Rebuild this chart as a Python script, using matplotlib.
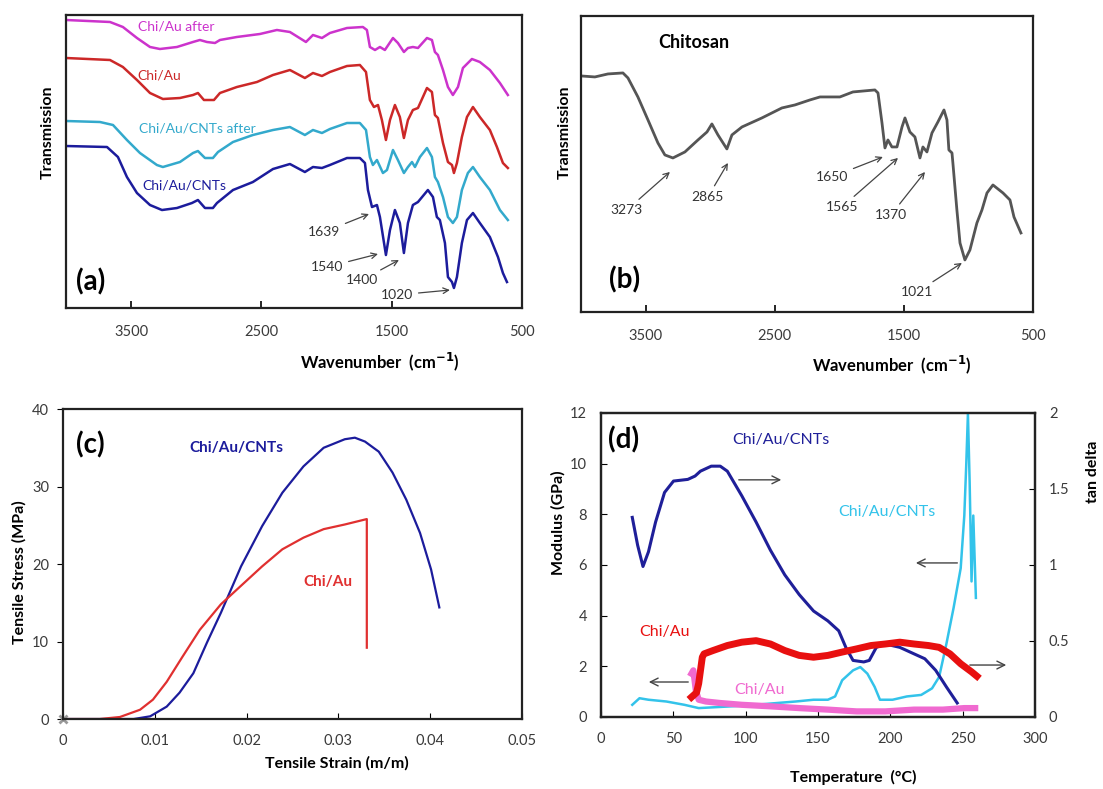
import matplotlib
matplotlib.use('Agg')
import matplotlib.pyplot as plt

plt.rcParams['font.family'] = ['Lato', 'DejaVu Sans']

# ---- (a) FTIR of the films (wavenumber cm-1, transmission in arbitrary units)
wn_cnts = [4000, 3685, 3601, 3532, 3455, 3355, 3263, 3148, 3033, 2987, 2933, 2872, 2841, 2718, 2565,
           2411, 2281, 2166, 2104, 2035, 1974, 1843, 1744, 1705, 1682, 1651, 1613, 1590, 1544, 1513,
           1475, 1437, 1406, 1375, 1337, 1298, 1222, 1183, 1153, 1130, 1091, 1068, 1037, 1022, 999,
           961, 922, 876, 823, 746, 684, 646, 615]
t_cnts = [162, 161, 151, 131, 115, 103, 98, 100, 105, 108, 100, 100, 105, 118, 126,
          139, 144, 136, 141, 140, 143, 150, 150, 145, 118, 101, 103, 91, 53, 78,
          98, 85, 55, 85, 103, 106, 118, 111, 91, 88, 65, 31, 26, 20, 31,
          65, 88, 95, 85, 71, 51, 35, 26]

wn_cnts_after = [4000, 3739, 3639, 3532, 3432, 3302, 3256, 3125, 3025, 2987, 2933, 2872, 2833, 2718, 2565,
                 2411, 2281, 2166, 2104, 2035, 1974, 1843, 1744, 1697, 1667, 1644, 1613, 1567, 1536, 1490,
                 1452, 1406, 1375, 1344, 1321, 1283, 1229, 1191, 1168, 1145, 1106, 1068, 1030, 999, 961,
                 915, 876, 823, 746, 669, 608]
t_cnts_after = [187, 186, 183, 168, 155, 143, 141, 146, 155, 157, 150, 150, 156, 166, 173,
                178, 181, 173, 178, 175, 179, 185, 185, 178, 151, 143, 148, 135, 138, 158,
                148, 135, 141, 146, 141, 151, 160, 151, 131, 126, 111, 91, 85, 91, 118,
                135, 141, 131, 118, 98, 88]

wn_au = [4000, 3662, 3563, 3455, 3355, 3256, 3125, 3025, 2987, 2941, 2864, 2818, 2688, 2534, 2411,
         2281, 2166, 2104, 2035, 1974, 1843, 1744, 1697, 1667, 1636, 1605, 1575, 1544, 1513, 1475,
         1437, 1406, 1375, 1337, 1298, 1229, 1191, 1168, 1145, 1106, 1068, 1037, 1022, 999, 961,
         922, 876, 823, 746, 692, 646, 608]
t_au = [250, 248, 241, 228, 215, 209, 210, 213, 215, 208, 208, 215, 221, 226, 233,
        238, 230, 235, 232, 236, 242, 243, 236, 208, 201, 203, 188, 168, 188, 203,
        191, 170, 188, 198, 200, 220, 216, 193, 190, 165, 146, 143, 135, 145, 171,
        191, 201, 191, 178, 161, 145, 140]

wn_au_after = [4000, 3662, 3563, 3455, 3355, 3279, 3148, 3025, 2972, 2918, 2856, 2818, 2688, 2511, 2381,
               2281, 2158, 2104, 2035, 1974, 1843, 1721, 1690, 1667, 1628, 1590, 1552, 1490, 1452, 1406,
               1375, 1337, 1298, 1229, 1191, 1168, 1145, 1106, 1068, 1030, 991, 953, 884, 823, 746,
               669, 608]
t_au_after = [288, 286, 281, 270, 261, 259, 261, 266, 268, 266, 265, 268, 271, 274, 278,
              276, 266, 273, 270, 275, 280, 281, 278, 261, 258, 261, 258, 270, 265, 256,
              260, 261, 260, 270, 268, 256, 253, 238, 221, 213, 221, 240, 249, 246, 238,
              225, 213]

# ---- (b) FTIR of chitosan
wn_chi = [4000, 3892, 3791, 3675, 3636, 3559, 3481, 3404, 3350, 3288, 3195, 3094, 3024, 2986, 2939,
          2870, 2831, 2753, 2599, 2444, 2343, 2227, 2149, 1995, 1894, 1724, 1700, 1669, 1646, 1623,
          1592, 1553, 1514, 1491, 1453, 1414, 1375, 1352, 1321, 1282, 1236, 1189, 1166, 1151, 1127,
          1120, 1089, 1065, 1027, 988, 934, 895, 856, 810, 732, 678, 647, 593]
t_chi = [236, 235, 238, 239, 234, 215, 192, 169, 157, 154, 160, 172, 180, 188, 177,
         163, 177, 185, 194, 204, 207, 212, 215, 215, 220, 222, 219, 189, 164, 172,
         165, 165, 185, 194, 180, 175, 154, 165, 160, 179, 190, 202, 192, 162, 159,
         149, 102, 69, 52, 62, 89, 102, 119, 127, 119, 112, 95, 79]

# ---- (c) tensile test
strain_cnts = [0, 0.0077, 0.0095, 0.0113, 0.0127, 0.0142, 0.0157, 0.0172, 0.0194, 0.0217, 0.0239,
               0.0262, 0.0284, 0.0307, 0.0318, 0.0329, 0.0344, 0.0359, 0.0374, 0.0389, 0.0401, 0.0410]
stress_cnts = [0, 0, 0.35, 1.6, 3.4, 5.9, 9.9, 13.7, 19.7, 24.9, 29.2,
               32.6, 35.0, 36.1, 36.3, 35.8, 34.5, 31.8, 28.3, 24.0, 19.3, 14.4]
strain_au = [0, 0.0040, 0.0062, 0.0084, 0.0098, 0.0113, 0.0130, 0.0149, 0.0172, 0.0194, 0.0217,
             0.0239, 0.0262, 0.0284, 0.0307, 0.0331, 0.0331]
stress_au = [0, 0, 0.26, 1.2, 2.5, 4.8, 8.0, 11.5, 14.8, 17.2, 19.7,
             21.9, 23.4, 24.5, 25.1, 25.8, 9.2]

# ---- (d) DMA
temp_cnts_tan = [21.6, 25.3, 29.0, 32.8, 37.7, 43.9, 50.1, 60.0, 65.0, 68.7, 76.2, 82.4, 87.3, 97.3,
                 107.2, 117.1, 127.0, 137.0, 146.9, 156.8, 164.3, 169.2, 174.2, 181.6, 185.4, 190.3,
                 196.5, 206.5, 216.4, 223.8, 231.3, 238.7, 246.2]
tan_cnts = [1.313, 1.13, 0.99, 1.087, 1.282, 1.477, 1.552, 1.563, 1.585, 1.617, 1.65, 1.65, 1.617, 1.455,
            1.282, 1.097, 0.935, 0.805, 0.697, 0.632, 0.567, 0.458, 0.372, 0.362, 0.372, 0.458,
            0.48, 0.458, 0.415, 0.383, 0.307, 0.198, 0.092]
temp_au_tan = [62.5, 66.0, 67.5, 70.0, 71.2, 77.4, 87.3, 97.3, 107.2, 117.1, 127.0, 137.0, 146.9,
               156.8, 166.7, 176.7, 186.6, 196.5, 206.5, 216.4, 226.3, 233.7, 241.2, 248.6, 256.1, 259.8]
tan_au = [0.13, 0.16, 0.22, 0.393, 0.415, 0.437, 0.47, 0.492, 0.502, 0.48, 0.437, 0.405, 0.393,
          0.405, 0.427, 0.448, 0.47, 0.48, 0.492, 0.48, 0.47, 0.458, 0.415, 0.35, 0.297, 0.268]
temp_cnts_mod = [21.6, 26.6, 32.8, 45.2, 57.6, 67.5, 100.0, 134.5, 146.9, 156.8, 161.8, 166.7, 174.2,
                 179.2, 184.1, 189.1, 192.8, 201.5, 211.4, 221.3, 228.8, 233.7, 238.7, 243.7, 248.6,
                 251.1, 252.4, 253.6, 254.8, 256.1, 257.3, 259.1]
mod_cnts = [0.48, 0.74, 0.68, 0.61, 0.48, 0.35, 0.45, 0.61, 0.68, 0.68, 0.81, 1.45, 1.84,
            1.97, 1.71, 1.19, 0.68, 0.68, 0.81, 0.87, 1.13, 1.58, 2.88, 4.31, 5.87,
            7.95, 9.90, 11.97, 9.25, 5.35, 7.95, 4.70]
temp_au_mod = [62.5, 63.8, 65.5, 67.5, 72.5, 82.4, 97.3, 117.1, 137.0, 156.8, 176.7, 196.5, 216.4,
               236.3, 251.1, 258.6]
mod_au = [1.71, 1.84, 1.06, 0.68, 0.61, 0.55, 0.48, 0.42, 0.35, 0.29, 0.22, 0.22, 0.29,
          0.29, 0.35, 0.35]

TICK = '#3a3a3a'
ARROW = '#444444'


def frame(ax):
    for s in ax.spines.values():
        s.set_linewidth(1.6)
        s.set_color('#222222')


def peak(ax, label, xy, xytext):
    ax.annotate(label, xy=xy, xytext=xytext, ha='center', va='center', fontsize=10, color='#333333',
                arrowprops=dict(arrowstyle='->', color=ARROW, lw=0.9, shrinkA=2, shrinkB=0))


def ftir_axes(ax, ymax):
    ax.set_xlim(4000, 500)
    ax.set_ylim(0, ymax)
    ax.set_xticks([3500, 2500, 1500, 500])
    ax.set_yticks([])
    ax.tick_params(axis='x', direction='in', length=5, width=1.2, pad=12, labelsize=10.5, labelcolor=TICK)
    frame(ax)


fig = plt.figure(figsize=(11.03, 7.89), dpi=100)

# (a)
ax = fig.add_axes([0.0598, 0.6096, 0.4134, 0.3714])
ax.plot(wn_au_after, t_au_after, color='#cc33cc', lw=1.8)
ax.plot(wn_au, t_au, color='#cc2828', lw=1.8)
ax.plot(wn_cnts_after, t_cnts_after, color='#33a9cc', lw=1.8)
ax.plot(wn_cnts, t_cnts, color='#1c1c9c', lw=1.8)
ftir_axes(ax, 293)
ax.text(3450, 281, 'Chi/Au after', color='#cc33cc', fontsize=10, va='center')
ax.text(3450, 232, 'Chi/Au', color='#cc2828', fontsize=10, va='center')
ax.text(3440, 180, 'Chi/Au/CNTs after', color='#33a9cc', fontsize=10, va='center')
ax.text(3410, 123, 'Chi/Au/CNTs', color='#1c1c9c', fontsize=10, va='center')
peak(ax, '1639', (1674, 94), (2020, 76))
peak(ax, '1540', (1605, 54), (1997, 41))
peak(ax, '1400', (1444, 48), (1728, 28))
peak(ax, '1020', (1053, 18), (1460, 13))
ax.text(0.055, 0.09, '(a)', transform=ax.transAxes, fontsize=20, fontweight='bold', ha='center', va='center')
ax.set_ylabel('Transmission', fontsize=11.5, fontweight='bold')
ax.yaxis.set_label_coords(-0.04, 0.6)
ax.yaxis.label.set_va('center')
ax.set_xlabel('Wavenumber  (cm$^{\\mathbf{-1}}$)', fontsize=12, fontweight='bold')
ax.xaxis.set_label_coords(0.689, -0.184)
ax.xaxis.label.set_va('center')

# (b)
ax = fig.add_axes([0.5267, 0.6046, 0.4098, 0.3752])
ax.plot(wn_chi, t_chi, color='#555555', lw=2.0)
ftir_axes(ax, 296)
peak(ax, '3273', (3311, 140), (3644, 102))
peak(ax, '2865', (2862, 149), (3017, 115))
peak(ax, '1650', (1662, 155), (2057, 135))
peak(ax, '1565', (1545, 154), (1979, 105))
peak(ax, '1370', (1336, 140), (1600, 97))
peak(ax, '1021', (1050, 49), (1398, 20))
ax.text(0.25, 0.909, 'Chitosan', transform=ax.transAxes, fontsize=13, fontweight='bold', ha='center', va='center')
ax.text(0.097, 0.108, '(b)', transform=ax.transAxes, fontsize=20, fontweight='bold', ha='center', va='center')
ax.set_ylabel('Transmission', fontsize=11.5, fontweight='bold')
ax.yaxis.set_label_coords(-0.035, 0.608)
ax.yaxis.label.set_va('center')
ax.set_xlabel('Wavenumber  (cm$^{\\mathbf{-1}}$)', fontsize=12, fontweight='bold')
ax.xaxis.set_label_coords(0.688, -0.179)
ax.xaxis.label.set_va('center')

# (c)
ax = fig.add_axes([0.0571, 0.0887, 0.4161, 0.3929])
ax.plot(strain_cnts, stress_cnts, color='#1c1c9c', lw=1.6)
ax.plot(strain_au, stress_au, color='#e03030', lw=1.6)
ax.plot([0], [0], marker='x', color='#999999', ms=6, mew=2, clip_on=False)
ax.set_xlim(0, 0.05)
ax.set_ylim(0, 40)
ax.set_xticks([0, 0.01, 0.02, 0.03, 0.04, 0.05])
ax.set_xticklabels(['0', '0.01', '0.02', '0.03', '0.04', '0.05'])
ax.set_yticks([0, 10, 20, 30, 40])
ax.tick_params(axis='x', direction='in', length=4, pad=11, labelsize=10.5, labelcolor=TICK)
ax.tick_params(axis='y', direction='out', length=4, pad=6, labelsize=10.5, labelcolor=TICK)
frame(ax)
ax.text(0.01885, 35.0, 'Chi/Au/CNTs', color='#1c1c9c', fontsize=11, fontweight='bold', ha='center', va='center')
ax.text(0.02887, 17.7, 'Chi/Au', color='#e03030', fontsize=11, fontweight='bold', ha='center', va='center')
ax.text(0.059, 0.884, '(c)', transform=ax.transAxes, fontsize=20, fontweight='bold', ha='center', va='center')
ax.set_ylabel('Tensile Stress (MPa)', fontsize=11.5, fontweight='bold')
ax.yaxis.set_label_coords(-0.096, 0.474)
ax.yaxis.label.set_va('center')
ax.set_xlabel('Tensile Strain (m/m)', fontsize=11.5, fontweight='bold')
ax.xaxis.set_label_coords(0.597, -0.142)
ax.xaxis.label.set_va('center')

# (d)
ax = fig.add_axes([0.5449, 0.0913, 0.3935, 0.3853])
ax.plot(temp_cnts_mod, mod_cnts, color='#33c3ea', lw=1.8)
ax.plot(temp_au_mod, mod_au, color='#f06ad0', lw=4.5)
ax.set_xlim(0, 300)
ax.set_ylim(0, 12)
ax.set_xticks(range(0, 301, 50))
ax.set_yticks(range(0, 13, 2))
ax.tick_params(direction='in', length=4, pad=11, labelsize=10.5, labelcolor=TICK)
ax.tick_params(axis='y', pad=10)
frame(ax)
ax2 = ax.twinx()
ax2.plot(temp_cnts_tan, tan_cnts, color='#1f1f99', lw=2.2)
ax2.plot(temp_au_tan, tan_au, color='#e81010', lw=5)
ax2.set_ylim(0, 2)
ax2.set_yticks([0, 0.5, 1, 1.5, 2])
ax2.set_yticklabels(['0', '0.5', '1', '1.5', '2'])
ax2.tick_params(direction='in', length=4, pad=10, labelsize=10.5, labelcolor=TICK)
frame(ax2)
ax2.set_ylabel('tan delta', fontsize=11.5, fontweight='bold')
ax2.yaxis.set_label_coords(1.134, 0.806)
ax2.yaxis.label.set_va('center')

ax2.text(124.4, 10.93 / 6, 'Chi/Au/CNTs', color='#1f1f99', fontsize=11.5, ha='center', va='center')
ax2.text(197.7, 8.09 / 6, 'Chi/Au/CNTs', color='#33c3ea', fontsize=11.5, ha='center', va='center')
ax2.text(44.2, 3.36 / 6, 'Chi/Au', color='#e81010', fontsize=11.5, ha='center', va='center')
ax2.text(109.2, 1.07 / 6, 'Chi/Au', color='#f06ad0', fontsize=11.5, ha='center', va='center')
arrow = dict(arrowstyle='->', color=ARROW, lw=1.0, mutation_scale=14)
ax2.annotate('', xy=(126.5, 9.36 / 6), xytext=(93.3, 9.36 / 6), arrowprops=arrow)
ax2.annotate('', xy=(215.7, 6.08 / 6), xytext=(248.2, 6.08 / 6), arrowprops=arrow)
ax2.annotate('', xy=(31.1, 1.38 / 6), xytext=(62.2, 1.38 / 6), arrowprops=arrow)
ax2.annotate('', xy=(282.0, 2.05 / 6), xytext=(253.0, 2.05 / 6), arrowprops=arrow)
ax2.text(0.053, 0.911, '(d)', transform=ax2.transAxes, fontsize=20, fontweight='bold', ha='center', va='center')
ax.set_ylabel('Modulus (GPa)', fontsize=11.5, fontweight='bold')
ax.yaxis.set_label_coords(-0.099, 0.64)
ax.yaxis.label.set_va('center')
ax.set_xlabel('Temperature  (°C)', fontsize=11.5, fontweight='bold')
ax.xaxis.set_label_coords(0.58, -0.2)
ax.xaxis.label.set_va('center')

fig.savefig('out.png', dpi=100)
